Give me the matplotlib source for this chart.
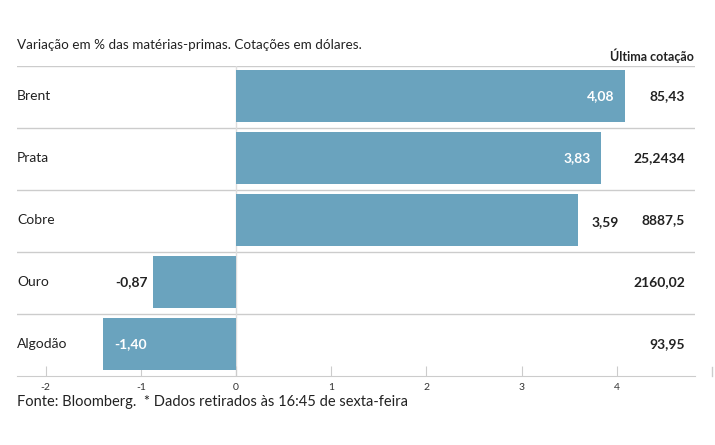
import matplotlib
matplotlib.use("Agg")
import matplotlib.pyplot as plt

plt.rcParams["font.family"] = ["Lato", "DejaVu Sans"]

# dados
categorias = ["Brent", "Prata", "Cobre", "Ouro", "Algodão"]
variacao = [4.08, 3.83, 3.59, -0.87, -1.40]
rotulos = ["4,08", "3,83", "3,59", "-0,87", "-1,40"]
dentro = [True, True, False, False, True]
ultima_cotacao = ["85,43", "25,2434", "8887,5", "2160,02", "93,95"]
ticks = [-2, -1, 0, 1, 2, 3, 4]

COR_BARRA = "#6aa3be"
COR_LINHA = "#cccccc"

fig = plt.figure(figsize=(7.15, 4.45), dpi=100)
ax = fig.add_axes([17 / 715, 1 - 376 / 445, 678 / 715, 310 / 445])

n = len(categorias)
ys = list(range(n))
ax.barh(ys, variacao, height=0.84, color=COR_BARRA, zorder=2)
base = n - 0.5 + 0.02
ax.set_ylim(base, -0.5 + 0.02)
ax.set_xlim(-2.3, 4.82)

# separadores das linhas
for i in range(n):
    ax.axhline(i - 0.5 + 0.02, color=COR_LINHA, lw=1, zorder=1)
ax.axvline(0, color="#dddddd", lw=1, zorder=1)

for y, v, lab, ins, cot, cat in zip(ys, variacao, rotulos, dentro, ultima_cotacao, categorias):
    ax.text(0.0, y, cat, transform=ax.get_yaxis_transform(), ha="left",
            va="center", fontsize=10, color="#222222")
    if ins:
        if v > 0:
            ax.annotate(lab, (v, y), xytext=(-7, 0), textcoords="offset points",
                        ha="right", va="center", color="white", fontsize=10, fontweight="bold")
        else:
            ax.annotate(lab, (v, y), xytext=(8.5, 0), textcoords="offset points",
                        ha="left", va="center", color="white", fontsize=10, fontweight="bold")
    else:
        if v > 0:
            ax.annotate(lab, (v, y), xytext=(10, -1.5), textcoords="offset points",
                        ha="left", va="center", color="#222222", fontsize=10, fontweight="bold")
        else:
            ax.annotate(lab, (v, y), xytext=(-4, 0), textcoords="offset points",
                        ha="right", va="center", color="#222222", fontsize=10, fontweight="bold")
    ax.text(668 / 678, y, cot, transform=ax.get_yaxis_transform(), ha="right",
            va="center", fontsize=10, color="#222222", fontweight="bold")

for s in ["top", "right", "left"]:
    ax.spines[s].set_visible(False)
ax.spines["bottom"].set_color(COR_LINHA)
ax.set_yticks([])
ax.set_xticks(ticks)
ax.set_xticklabels([str(t) for t in ticks])
ax.tick_params(axis="x", direction="in", length=7, color=COR_LINHA,
               labelsize=7.5, labelcolor="#333333", pad=5)
# tick solto em 5, fora da area do eixo
ax.plot([5, 5], [base, base - 0.145], color=COR_LINHA, lw=1, clip_on=False)

fig.text(17 / 715, 1 - 45 / 445, "Variação em % das matérias-primas. Cotações em dólares.",
         ha="left", va="center", fontsize=9.7, color="#222222")
fig.text(694 / 715, 1 - 56 / 445, "Última cotação", ha="right", va="center",
         fontsize=9, fontweight="bold", color="#222222")
fig.text(17 / 715, 1 - 402 / 445, "Fonte: Bloomberg.  * Dados retirados às 16:45 de sexta-feira",
         ha="left", va="center", fontsize=10.5, color="#222222")

fig.savefig("out.png", dpi=100)
